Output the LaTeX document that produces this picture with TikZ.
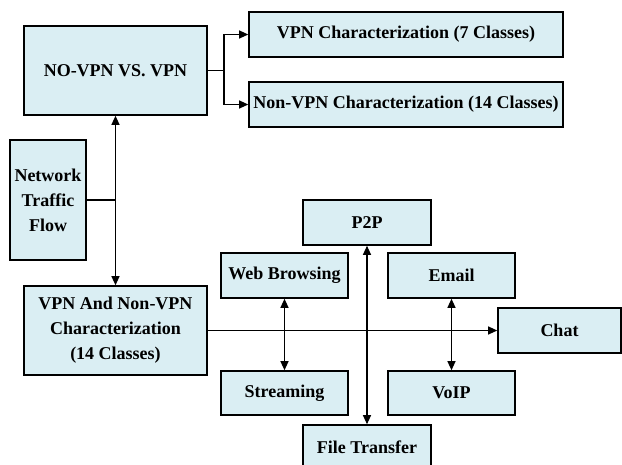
\documentclass[tikz,border=0pt]{standalone}
\usepackage{fontspec}
\setmainfont{Liberation Serif}
\usetikzlibrary{arrows.meta}

\definecolor{boxblue}{RGB}{218,238,243}

\begin{document}
\begin{tikzpicture}[x=1pt,y=-1pt,
	box/.style={draw=black,line width=1.6pt,fill=boxblue,rectangle,inner sep=0pt,
		align=center,font=\fontsize{18}{25}\selectfont\bfseries},
	link/.style={line width=1.1pt,-{Triangle[length=9pt,width=8pt]}},
	twoway/.style={line width=1.1pt,{Triangle[length=9pt,width=8pt]}-{Triangle[length=9pt,width=8pt]}}]
	\useasboundingbox (0,0) rectangle (622,464);
	% upper part
	\node[box,minimum width=183pt,minimum height=89pt] (novpn) at (115.5,70.5) {NO-VPN VS. VPN};
	\node[box,minimum width=314pt,minimum height=45pt] (vpnchar) at (406,34.5) {VPN Characterization (7 Classes)};
	\node[box,minimum width=314pt,minimum height=45pt] (nonvpnchar) at (406,104.5) {Non-VPN Characterization (14 Classes)};
	\node[box,minimum width=76pt,minimum height=120pt] (traffic) at (48,200) {Network\\Traffic\\Flow};
	% lower part
	\node[box,minimum width=183pt,minimum height=89pt] (allchar) at (115.5,330.5) {VPN And Non-VPN\\Characterization\\(14 Classes)};
	\node[box,minimum width=128pt,minimum height=45pt] (p2p) at (367,222.5) {P2P};
	\node[box,minimum width=127pt,minimum height=45pt] (web) at (284.5,275.5) {Web Browsing};
	\node[box,minimum width=127pt,minimum height=45pt] (email) at (451.5,275.5) {Email};
	\node[box,minimum width=123pt,minimum height=45pt] (chat) at (559.5,330.5) {Chat};
	\node[box,minimum width=127pt,minimum height=44pt] (stream) at (284.5,393) {Streaming};
	\node[box,minimum width=127pt,minimum height=44pt] (voip) at (451.5,393) {VoIP};
	\node[box,minimum width=128pt,minimum height=45pt] (ftransfer) at (367,447.5) {File Transfer};
	% connectors
	\coordinate (split) at (224,70.5);
	\draw[line width=1.1pt] (novpn.east) -- (split);
	\draw[link] (split) |- (vpnchar.west);
	\draw[link] (split) |- (nonvpnchar.west);
	\draw[twoway] (novpn.south) -- (allchar.north);
	\draw[line width=1.1pt] (traffic.east) -- (traffic.east -| novpn.south);
	\draw[link] (allchar.east) -- (chat.west);
	\draw[twoway] (web.south) -- (stream.north);
	\draw[twoway] (p2p.south) -- (ftransfer.north);
	\draw[twoway] (email.south) -- (voip.north);
\end{tikzpicture}
\end{document}
